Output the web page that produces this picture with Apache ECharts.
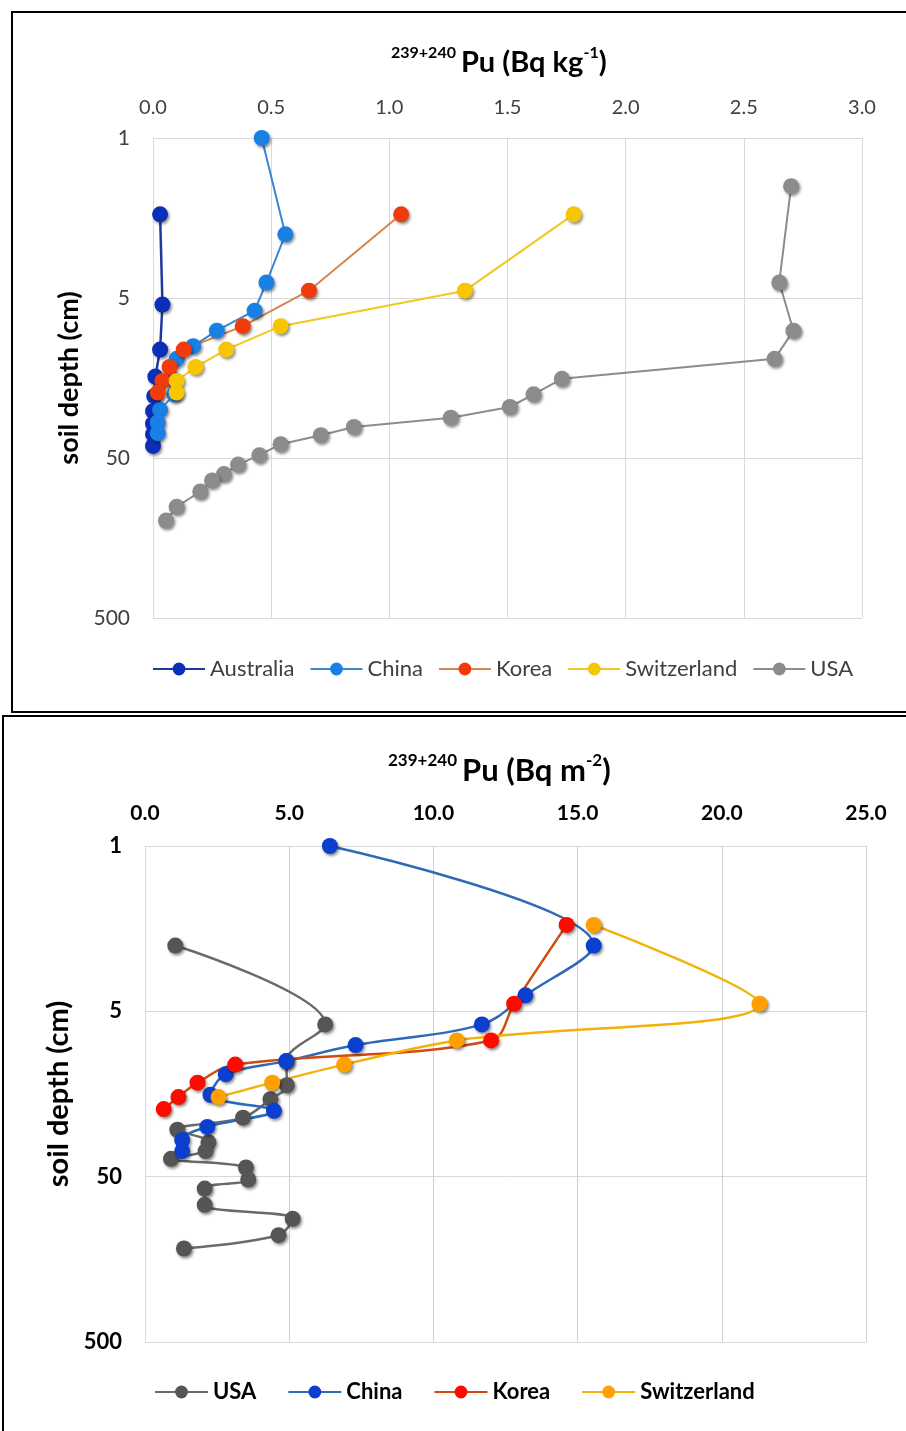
<!DOCTYPE html>
<html>
<head>
<meta charset="utf-8">
<script src="https://cdn.jsdelivr.net/npm/echarts@6/dist/echarts.min.js"></script>
<style>
html,body{margin:0;padding:0;background:#fff;}
#c1{position:absolute;left:0;top:0;width:906px;height:714px;}
#c2{position:absolute;left:0;top:714px;width:906px;height:717px;}
</style>
</head>
<body>
<div id="c1"></div>
<div id="c2"></div>
<script>
// ---------- data: top panel (Bq kg-1) ----------
const depthTicks = ['1', '5', '50', '500'];
const topAusDepth = [1.5, 5.5, 10.5, 15.5, 20.5, 25.5, 30.5, 35.5, 42];
const topAusVal   = [0.03, 0.04, 0.03, 0.01, 0.005, 0, 0, 0, 0];
const topChnDepth = [0.5, 2, 4, 6, 8, 10, 12, 16, 20, 25, 30, 35];
const topChnVal   = [0.46, 0.56, 0.48, 0.43, 0.27, 0.17, 0.10, 0.08, 0.09, 0.03, 0.02, 0.02];
const topKorDepth = [1.5, 4.5, 7.5, 10.5, 13.5, 16.5, 19.5];
const topKorVal   = [1.05, 0.66, 0.38, 0.13, 0.07, 0.04, 0.02];
const topSwiDepth = [1.5, 4.5, 7.5, 10.5, 13.5, 16.5, 19.5];
const topSwiVal   = [1.78, 1.32, 0.54, 0.31, 0.18, 0.10, 0.10];
const topUsaDepth = [1, 4, 8, 12, 16, 20, 24, 28, 32, 36, 41, 48, 55, 63, 69, 81, 101, 123];
const topUsaVal   = [2.70, 2.65, 2.71, 2.63, 1.73, 1.61, 1.51, 1.26, 0.85, 0.71, 0.54, 0.45, 0.36, 0.30, 0.25, 0.20, 0.10, 0.055];

// ---------- data: bottom panel (Bq m-2) ----------
const botUsaDepth = [2, 6, 10, 14, 17, 22, 26, 31, 35, 39, 44, 52, 59, 74, 90, 113, 136];
const botUsaVal   = [1.05, 6.25, 4.9, 4.92, 4.35, 3.4, 1.12, 2.2, 2.1, 0.9, 3.5, 3.58, 2.07, 2.07, 5.12, 4.63, 1.35];
const botChnDepth = [0.5, 2, 4, 6, 8, 10, 12, 16, 20, 25, 30, 35];
const botChnVal   = [6.41, 15.56, 13.19, 11.68, 7.30, 4.9, 2.8, 2.27, 4.47, 2.16, 1.29, 1.29];
const botKorDepth = [1.5, 4.5, 7.5, 10.5, 13.5, 16.5, 19.5];
const botKorVal   = [14.62, 12.8, 12.0, 3.13, 1.82, 1.16, 0.65];
const botSwiDepth = [1.5, 4.5, 7.5, 10.5, 13.5, 16.5];
const botSwiVal   = [15.56, 21.31, 10.81, 6.91, 4.41, 2.55];

const FONT = 'Lato, "Open Sans", sans-serif';

// depth axis: decades counted from 0.5 cm (shown as 1, 5, 50, 500)
function depthPos(d) { return Math.log10(d / 0.5); }
function pts(vals, depths) { return vals.map((v, i) => [v, depthPos(depths[i])]); }

function mkSeries(name, vals, depths, marker, line, smooth, lw) {
  return {
    type: 'line', name: name, data: pts(vals, depths),
    symbol: 'circle', symbolSize: 16, smooth: smooth ? 0.35 : false,
    clip: false,
    lineStyle: { color: line, width: lw },
    itemStyle: { color: marker, shadowBlur: 3, shadowOffsetX: 1.5, shadowOffsetY: 2, shadowColor: 'rgba(0,0,0,0.45)' },
    emphasis: { disabled: true }
  };
}

function titleRich(unitSup, unitMain, left, top, mainSize, supSize) {
  return {
    text: '{s|239+240} {m|Pu (Bq ' + unitMain + '}{s|' + unitSup + '}{m|)}',
    left: left, top: top,
    textStyle: {
      rich: {
        s: { fontSize: supSize, fontWeight: 'bold', fontFamily: FONT, color: '#000', verticalAlign: 'top', lineHeight: mainSize + 6, padding: [0, 0, 12, 0] },
        m: { fontSize: mainSize, fontWeight: 'bold', fontFamily: FONT, color: '#000', lineHeight: mainSize + 6 }
      }
    }
  };
}

function mkYAxis(bold, nameGap, nameSize, labelSize) {
  return {
    type: 'value', min: 0, max: 3, interval: 1, inverse: true,
    name: 'soil depth (cm)', nameLocation: 'middle', nameRotate: 90, nameGap: nameGap,
    nameTextStyle: { fontSize: nameSize, fontWeight: 'bold', fontFamily: FONT, color: '#000' },
    axisLine: { show: true, lineStyle: { color: '#d9d9d9' } },
    axisTick: { show: false },
    axisLabel: { margin: 23, fontSize: labelSize, fontWeight: bold ? 'bold' : 'normal', fontFamily: FONT, color: bold ? '#000' : '#404040',
      formatter: v => depthTicks[Math.round(v)] },
    splitLine: { show: true, lineStyle: { color: '#d9d9d9', width: 1 } }
  };
}

// ---------- chart 1 ----------
const ch1 = echarts.init(document.getElementById('c1'));
ch1.setOption({
  animation: false,
  backgroundColor: '#fff',
  graphic: [{ type: 'rect', shape: { x: 12, y: 12, width: 920, height: 700 }, style: { fill: 'none', stroke: '#000', lineWidth: 2 }, silent: true }],
  title: titleRich('-1', 'kg', 386, 40, 29, 16),
  grid: { left: 153, top: 138, width: 709, height: 480 },
  xAxis: {
    type: 'value', position: 'top', min: 0, max: 3, interval: 0.5,
    axisLine: { show: false }, axisTick: { show: false },
    axisLabel: { margin: 20, fontSize: 20, fontFamily: FONT, color: '#404040', formatter: v => v.toFixed(1) },
    splitLine: { show: true, lineStyle: { color: '#d9d9d9' } }
  },
  yAxis: mkYAxis(false, 69, 27, 21),
  legend: {
    left: 147, top: 653, itemWidth: 52, itemHeight: 16, itemGap: 15,
    textStyle: { fontSize: 22, fontFamily: FONT, color: '#404040' },
    data: ['Australia', 'China', 'Korea', 'Switzerland', 'USA']
  },
  series: [
    mkSeries('Australia', topAusVal, topAusDepth, '#0b2fb8', '#1f3a9e', false, 2.5),
    mkSeries('China', topChnVal, topChnDepth, '#1a80e6', '#3a86d0', false, 2),
    mkSeries('Korea', topKorVal, topKorDepth, '#f03c0a', '#d9844e', false, 2),
    mkSeries('Switzerland', topSwiVal, topSwiDepth, '#f7c600', '#f0c820', false, 2),
    mkSeries('USA', topUsaVal, topUsaDepth, '#8c8c8c', '#8c8c8c', false, 2)
  ]
});

// ---------- chart 2 ----------
const ch2 = echarts.init(document.getElementById('c2'));
ch2.setOption({
  animation: false,
  backgroundColor: '#fff',
  graphic: [{ type: 'rect', shape: { x: 3, y: 2, width: 930, height: 740 }, style: { fill: 'none', stroke: '#000', lineWidth: 2 }, silent: true }],
  title: titleRich('-2', 'm', 383, 33, 31, 17),
  grid: { left: 145, top: 132, width: 721, height: 496 },
  xAxis: {
    type: 'value', position: 'top', min: 0, max: 25, interval: 5,
    axisLine: { show: false }, axisTick: { show: false },
    axisLabel: { margin: 22, fontSize: 21, fontWeight: 'bold', fontFamily: FONT, color: '#000', formatter: v => v.toFixed(1) },
    splitLine: { show: true, lineStyle: { color: '#d0d0d0' } }
  },
  yAxis: mkYAxis(true, 70, 29, 22),
  legend: {
    left: 149, top: 662, itemWidth: 53, itemHeight: 16, itemGap: 31,
    textStyle: { fontSize: 22, fontWeight: 'bold', fontFamily: FONT, color: '#000' },
    data: ['USA', 'China', 'Korea', 'Switzerland']
  },
  series: [
    mkSeries('USA', botUsaVal, botUsaDepth, '#555555', '#6a6a6a', true, 2.5),
    mkSeries('China', botChnVal, botChnDepth, '#0a3fd0', '#2e6ab8', true, 2.5),
    mkSeries('Korea', botKorVal, botKorDepth, '#ff0a00', '#d24a0c', true, 2.5),
    mkSeries('Switzerland', botSwiVal, botSwiDepth, '#ffa000', '#f2b20a', true, 2.5)
  ]
});
</script>
</body>
</html>
